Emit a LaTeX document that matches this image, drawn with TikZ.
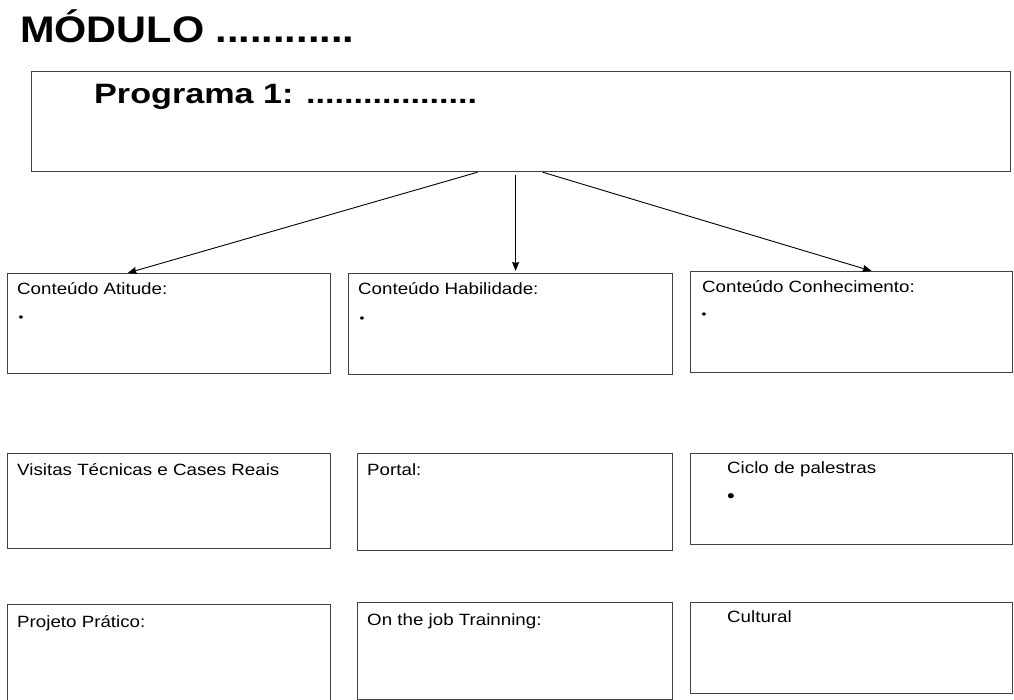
\documentclass[tikz,border=0pt]{standalone}
\usepackage{fontspec}
\setmainfont{Liberation Sans}
\newfontfamily\titlefont[FakeStretch=1.12]{Liberation Sans}
\newfontfamily\progfont[FakeStretch=1.22]{Liberation Sans}
\newfontfamily\boxfont[FakeStretch=1.15]{Liberation Sans}
\usetikzlibrary{arrows.meta}
\tikzstyle{arrow} = [-{Stealth[length=9pt, width=7pt, inset=1pt]}, line width=0.9pt]
\tikzstyle{box} = [rectangle, draw=black!75, line width=1.2pt, anchor=north west, inner sep=0pt]
\tikzstyle{txt} = [anchor=base west, inner sep=0pt, font=\boxfont\fontsize{16.3}{19}\selectfont]
\tikzstyle{dot} = [anchor=center, inner sep=0pt, font=\boxfont\fontsize{12}{12}\selectfont]

\begin{document}
\begin{tikzpicture}[x=1pt, y=-1pt]
		\useasboundingbox (0,0) rectangle (1014,700);
		\node (title) [anchor=base west, inner sep=0pt, font=\titlefont\bfseries\fontsize{37}{40}\selectfont] at (20,43) {MÓDULO ............};
		% program box
		\node (prog) [box, minimum width=979pt, minimum height=100pt] at (31,71) {};
		\node (progT) [anchor=base west, inner sep=0pt, font=\progfont\bfseries\fontsize{28}{32}\selectfont] at (94,104) {Programa 1: ..................};
		% first row
		\node (atitude) [box, minimum width=323pt, minimum height=100pt] at (7,273) {};
		\node (habilidade) [box, minimum width=324pt, minimum height=101pt] at (348,273) {};
		\node (conhecimento) [box, minimum width=322pt, minimum height=101pt] at (690,271) {};
		\node (atitudeT) [txt] at (17,295) {Conteúdo Atitude:};
		\node (habilidadeT) [txt] at (358,295) {Conteúdo Habilidade:};
		\node (conhecimentoT) [txt] at (702,293) {Conteúdo Conhecimento:};
		\node (atitudeDot) [dot] at (21,319) {•};
		\node (habilidadeDot) [dot] at (362,320) {•};
		\node (conhecimentoDot) [dot] at (704,316) {•};
		% second row
		\node (visitas) [box, minimum width=323pt, minimum height=95pt] at (7,453) {};
		\node (portal) [box, minimum width=315pt, minimum height=97pt] at (357,453) {};
		\node (ciclo) [box, minimum width=322pt, minimum height=91pt] at (690,453) {};
		\node (visitasT) [txt] at (17,475) {Visitas Técnicas e Cases Reais};
		\node (portalT) [txt] at (367,475) {Portal:};
		\node (cicloT) [txt] at (727,473) {Ciclo de palestras};
		\node (cicloDot) [dot, font=\boxfont\fontsize{19}{19}\selectfont] at (731,498) {•};
		% third row
		\node (projeto) [box, minimum width=323pt, minimum height=96pt] at (7,604) {};
		\node (job) [box, minimum width=315pt, minimum height=97pt] at (357,602) {};
		\node (cultural) [box, minimum width=322pt, minimum height=91pt] at (690,602) {};
		\node (projetoT) [txt] at (17,627) {Projeto Prático:};
		\node (jobT) [txt] at (367,625) {On the job Trainning:};
		\node (culturalT) [txt] at (727,622) {Cultural};
		\draw [arrow] ([xshift=-43.5pt]prog.south) -- ([xshift=-41.5pt]atitude.north);
		\draw [arrow] ([xshift=-5.5pt, yshift=-3pt]prog.south) -- ([xshift=5pt, yshift=2pt]habilidade.north);
		\draw [arrow] ([xshift=21.5pt]prog.south) -- ([xshift=20pt]conhecimento.north);
	\end{tikzpicture}
\end{document}
